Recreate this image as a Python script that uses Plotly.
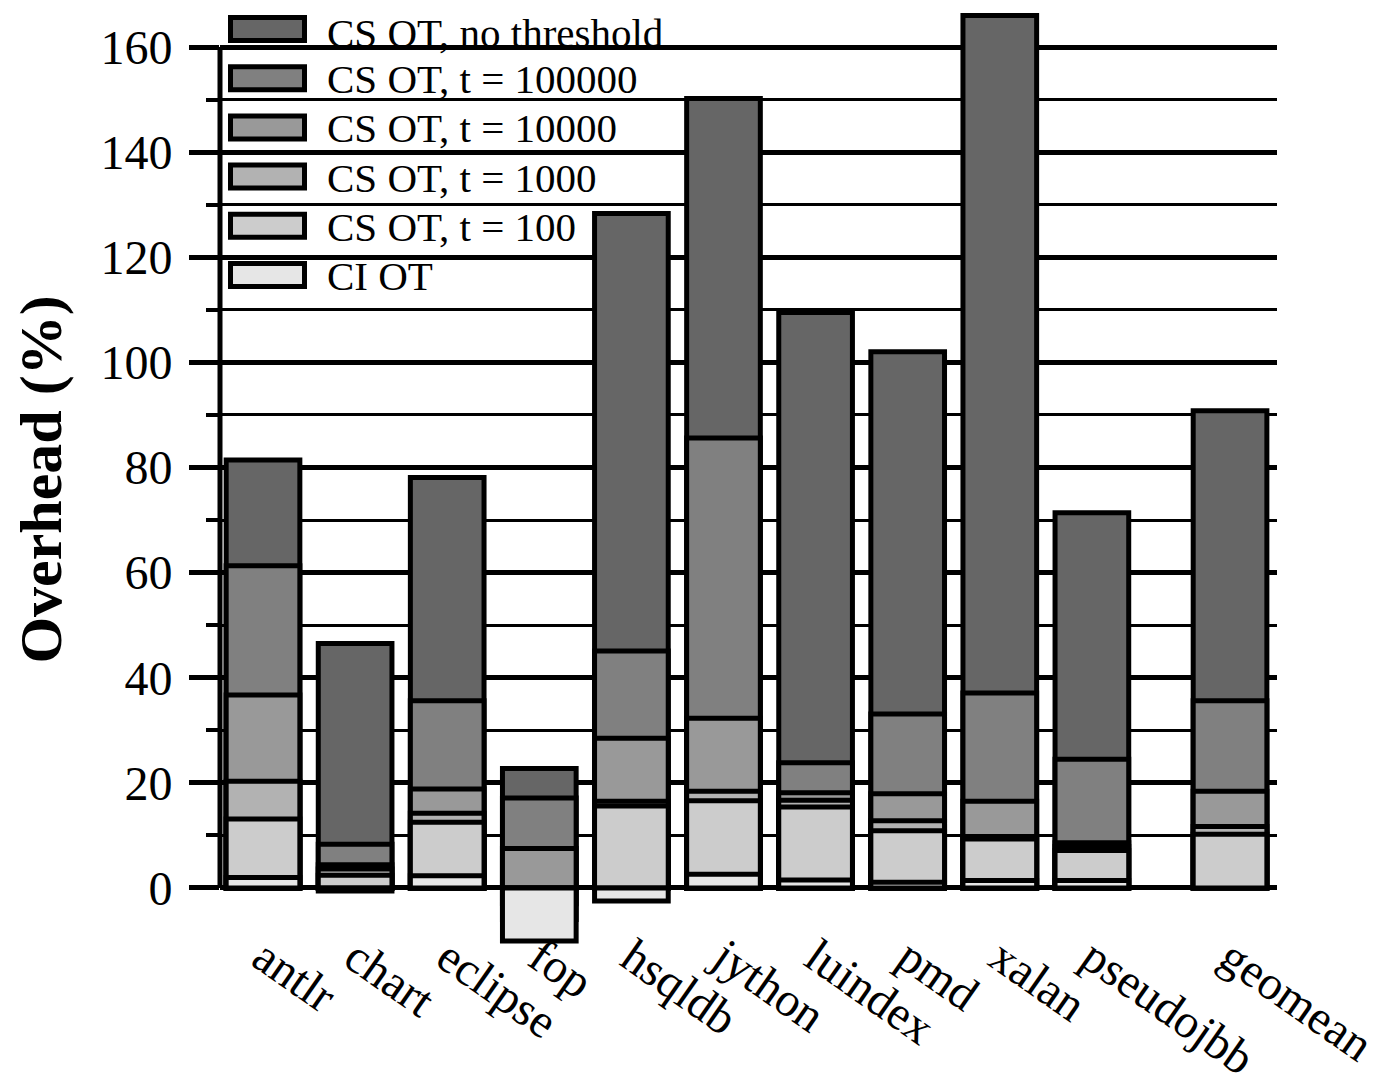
import plotly.graph_objects as go

# ---------------- data ----------------
benchmarks = ["antlr", "chart", "eclipse", "fop", "hsqldb", "jython",
              "luindex", "pmd", "xalan", "pseudojbb", "geomean"]
xpos = [0, 1, 2, 3, 4, 5, 6, 7, 8, 9, 10.5]

cs_no_threshold = [81.4, 46.5, 78.1, 22.7, 128.3, 150.2, 109.5, 102.0, 166.0, 71.4, 90.8]
cs_t100000      = [61.3, 8.3, 35.6, 17.1, 45.1, 85.6, 23.8, 33.1, 37.1, 24.5, 35.6]
cs_t10000       = [36.7, 4.4, 18.8, 7.5, 28.5, 32.3, 18.1, 17.9, 16.5, 8.6, 18.4]
cs_t1000        = [20.3, 3.6, 14.2, -3.0, 16.5, 18.4, 16.7, 12.8, 9.8, 7.9, 11.7]
cs_t100         = [13.1, 2.4, 12.5, -6.0, 15.6, 16.6, 15.4, 10.9, 9.3, 7.1, 10.2]
ci_ot           = [2.0, -0.6, 2.3, -10.1, -2.5, 2.6, 1.5, 1.1, 1.4, 1.4, None]

series_names = ["CS OT, no threshold", "CS OT, t = 100000", "CS OT, t = 10000",
                "CS OT, t = 1000", "CS OT, t = 100", "CI OT"]
series_values = [cs_no_threshold, cs_t100000, cs_t10000, cs_t1000, cs_t100, ci_ot]
series_colors = ["#666666", "#808080", "#999999", "#b2b2b2", "#cccccc", "#e6e6e6"]

major_ticks = [0, 20, 40, 60, 80, 100, 120, 140, 160]
minor_ticks = [10, 30, 50, 70, 90, 110, 130, 150]

# ---------------- layout geometry ----------------
OFF = 8                      # page body margin of the browser
W, H = 1383 - OFF, 1092 - OFF
# plot area edges in page pixels
PL, PR = 220, 1277
Y0_PX, Y160_PX = 888, 47     # page pixel of y=0 and y=160
PPU = (Y0_PX - Y160_PX) / 160.0
PT = OFF                     # plot top at top of the figure
PB = Y0_PX + 12 * PPU        # bottom of range (-12)
YTOP = 160 + (Y160_PX - PT) / PPU


def px_x(p):
    return (p - PL) / (PR - PL)


def px_y(p):
    return (PB - p) / (PB - PT)


FONT = "Liberation Serif"

fig = go.Figure()
for name, vals, col in zip(series_names, series_values, series_colors):
    fig.add_trace(go.Bar(
        x=xpos, y=vals, name=name, width=0.8,
        marker=dict(color=col, line=dict(color="black", width=5)),
        showlegend=False, cliponaxis=False,
    ))

shapes = []
# white legend background hiding the grid
shapes.append(dict(type="rect", xref="paper", yref="paper",
                   x0=px_x(222), x1=px_x(768), y0=px_y(75), y1=1,
                   fillcolor="white", line=dict(width=0), layer="between"))
shapes.append(dict(type="rect", xref="paper", yref="paper",
                   x0=px_x(222), x1=px_x(679), y0=px_y(292), y1=1,
                   fillcolor="white", line=dict(width=0), layer="between"))
# y axis line from 0 to 160
shapes.append(dict(type="line", xref="paper", yref="y",
                   x0=0, x1=0, y0=0, y1=160,
                   line=dict(color="black", width=5), layer="above"))

annotations = []
item_y = [29, 78.2, 127.4, 176.6, 225.8, 275]
for i, (name, col, cy) in enumerate(zip(series_names, series_colors, item_y)):
    shapes.append(dict(type="rect", xref="paper", yref="paper",
                       x0=px_x(230.5), x1=px_x(304.5),
                       y0=px_y(cy + 11.5), y1=px_y(cy - 11.5),
                       fillcolor=col, line=dict(color="black", width=5),
                       layer="above"))
    ty = max(cy + 1, 33) if i == 0 else cy + 1
    annotations.append(dict(xref="paper", yref="paper", x=px_x(326), y=px_y(ty),
                            text=name, showarrow=False, xanchor="left",
                            yanchor="middle", borderpad=0,
                            font=dict(family=FONT, size=41, color="black")))

fig.update_layout(
    width=W, height=H,
    margin=dict(l=PL - OFF, r=(W + OFF) - PR, t=PT - OFF, b=(H + OFF) - PB,
                pad=0, autoexpand=False),
    barmode="overlay",
    plot_bgcolor="white", paper_bgcolor="white",
    font=dict(family=FONT, color="black"),
    shapes=shapes, annotations=annotations,
    showlegend=False,
)

fig.update_xaxes(
    range=[-0.467, 11.01], automargin=False,
    tickmode="array", tickvals=xpos, ticktext=benchmarks,
    tickangle=35, tickfont=dict(family=FONT, size=48, color="black"),
    ticklabelstandoff=-32,
    showgrid=False, zeroline=False, showline=False, ticks="",
)

fig.update_yaxes(
    range=[-12, YTOP], automargin=False,
    tickmode="array", tickvals=major_ticks,
    ticks="outside", ticklen=30, tickwidth=5, tickcolor="black",
    tickfont=dict(family=FONT, size=48, color="black"),
    ticklabelstandoff=7,
    showgrid=True, gridcolor="black", gridwidth=5,
    zeroline=False, showline=False,
    minor=dict(tickmode="array", tickvals=minor_ticks, ticks="outside",
               ticklen=13, tickwidth=4, tickcolor="black",
               showgrid=True, gridcolor="black", gridwidth=2.5),
    title=dict(text="Overhead (%)", standoff=35,
               font=dict(family=FONT, size=60, color="black", weight="bold")),
)

fig.write_html("out.html")
